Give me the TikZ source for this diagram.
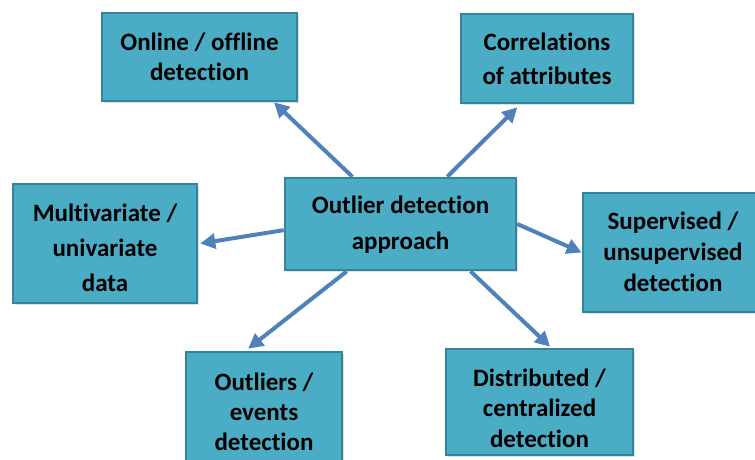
\documentclass[tikz,border=0pt]{standalone}
\usepackage{fontspec}
\setmainfont{Carlito}[Ligatures=NoCommon]
\usetikzlibrary{arrows.meta,calc,shadows}

\definecolor{boxfill}{HTML}{4BACC6}
\definecolor{boxline}{HTML}{31859C}
\definecolor{arrowblue}{HTML}{4F81BD}

\tikzset{
  topic/.style 2 args={
    draw=boxline, line width=2.6pt, fill=boxfill,
    drop shadow={opacity=0.25, shadow xshift=1.5pt, shadow yshift=-1.5pt},
    rectangle, inner sep=0pt,
    minimum width=#1, minimum height=#2
  },
  caption/.style={
    inner sep=0pt, align=center,
    font=\fontsize{25}{#1}\selectfont\bfseries
  },
  lead/.style={
    draw=arrowblue, line width=4pt,
    -{Triangle[length=15pt,width=15pt]}
  }
}

\begin{document}
\begin{tikzpicture}[x=1pt,y=-1pt]
  \useasboundingbox (0,0) rectangle (755,459);
  \clip (0,0) rectangle (755,459);

  % boxes
  \node[topic={231pt}{92pt}]  (c)      at (400.5,224)  {};
  \node[topic={195pt}{88pt}]  (online) at (199.5,57)   {};
  \node[topic={172pt}{89pt}]  (corr)   at (547,58.5)   {};
  \node[topic={184pt}{119pt}] (multi)  at (105,243.5)  {};
  \node[topic={178pt}{119pt}] (sup)    at (672,252.5)  {};
  \node[topic={156pt}{120pt}] (events) at (264,412)    {};
  \node[topic={187pt}{106pt}] (distr)  at (539.5,402)  {};

  % box texts
  \node[caption=36]   (c-t)      at ($(c)+(0,0.5)$)      {Outlier detection\\approach};
  \node[caption=30]   (online-t) at (online)             {Online / offline\\detection};
  \node[caption=34]   (corr-t)   at ($(corr)+(0,0.5)$)   {Correlations\\of attributes};
  \node[caption=35]   (multi-t)  at ($(multi)+(0,4.5)$)  {Multivariate /\\univariate\\data};
  \node[caption=31]   (sup-t)    at ($(sup)+(1,-0.5)$)   {Supervised /\\unsupervised\\detection};
  \node[caption=30]   (events-t) at (events)             {Outliers /\\events\\detection};
  \node[caption=30.5] (distr-t)  at ($(distr)+(0,6)$)    {Distributed /\\centralized\\detection};

  % connectors from the central topic
  \draw[lead] ($(c.north west)!0.294!(c.north east)$)
           -- ($(online.south west)!0.877!(online.south east)$);
  \draw[lead] ($(c.north west)!0.70!(c.north east)$)
           -- ($(corr.south west)!0.33!(corr.south east)+(0,-3pt)$);
  \draw[lead] ($(c.north west)!0.565!(c.south west)$)
           -- ($(multi.east)+(2pt,0)$);
  \draw[lead] (c.east) -- (sup.west);
  \draw[lead] ($(c.south west)!0.27!(c.south east)$)
           -- ($(events.north west)!0.40!(events.north east)+(0,2pt)$);
  \draw[lead] ($(c.south west)!0.80!(c.south east)$)
           -- ($(distr.north west)!0.556!(distr.north east)+(0,1pt)$);
\end{tikzpicture}
\end{document}
